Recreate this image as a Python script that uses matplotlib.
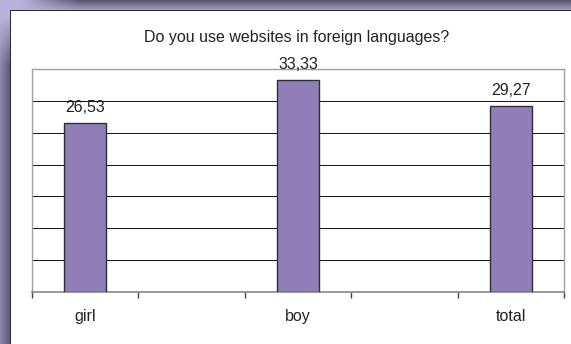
import numpy as np
import matplotlib
matplotlib.use("Agg")
import matplotlib.pyplot as plt
from matplotlib.ticker import FixedLocator, NullFormatter

plt.rcParams["font.family"] = ["Liberation Sans", "DejaVu Sans"]

# Survey data (empty slots keep a blank category between groups)
categories = ["girl", "", "boy", "", "total"]
values = [26.53, None, 33.33, None, 29.27]
value_labels = ["26,53", "", "33,33", "", "29,27"]
title = "Do you use websites in foreign languages?"

W, H = 571, 344
fig = plt.figure(figsize=(W / 100, H / 100), dpi=100)
fig.patch.set_facecolor("white")

# Decorative purple frame along the top and left edges
img = np.ones((H, W, 3))
lav = np.array([0.73, 0.70, 0.86])
top_a = np.array([0.36, 0.34, 0.45])
top_b = np.array([0.63, 0.60, 0.73])
left_a = np.array([0.56, 0.53, 0.67])
left_b = np.array([0.38, 0.36, 0.48])
for r in range(11):
    t = r / 9.0
    c = top_a * (1 - t) + top_b * t
    for x in range(W):
        w = np.clip((x - 20) / 60.0, 0, 1)
        img[r, x] = lav * (1 - w) + c * w
for x in range(11):
    t = x / 9.0
    c = left_a * (1 - t) + left_b * t
    for r in range(H):
        w = np.clip((r - 15) / 50.0, 0, 1)
        img[r, x] = lav * (1 - w) + c * w
dark = np.array([0.17, 0.16, 0.22])
img[10, 10:] = dark
img[10:, 10] = dark

bg = fig.add_axes([0, 0, 1, 1])
bg.imshow(img, extent=(0, W, H, 0), interpolation="bilinear", aspect="auto")
bg.set_xlim(0, W)
bg.set_ylim(H, 0)
bg.axis("off")

fig.text(296.5 / W, 1 - 41.7 / H, title, ha="center", va="baseline",
         fontsize=11.5, color="#222222")

ax = fig.add_axes([32 / W, 52 / H, 532 / W, 223 / H])
ax.set_facecolor("white")

pos = np.arange(len(categories))
for i, v in enumerate(values):
    if v is None:
        continue
    ax.bar(pos[i], v, width=0.4, color="#8f7fb9", edgecolor="#2e2e36",
           linewidth=1.0, zorder=3)
    ax.annotate(value_labels[i], (pos[i], v), xytext=(0, 7.6),
                textcoords="offset points", ha="center", va="baseline",
                fontsize=11.5, color="#222222")

ax.set_xlim(-0.5, len(categories) - 0.5)
ax.set_ylim(0, 35)
ax.set_yticks(np.arange(0, 36, 5))
ax.yaxis.grid(True, color="#1a1a1a", linewidth=0.75, zorder=0)
ax.tick_params(axis="y", length=0, labelleft=False)

ax.set_xticks(pos)
ax.set_xticklabels(categories, fontsize=11.5, color="#222222")
ax.tick_params(axis="x", which="major", length=0, pad=12)
ax.xaxis.set_minor_locator(FixedLocator(np.arange(-0.5, len(categories), 1.0)))
ax.xaxis.set_minor_formatter(NullFormatter())
ax.tick_params(axis="x", which="minor", length=4, width=1, color="#444444",
               direction="out")

for side in ["top", "right", "left"]:
    ax.spines[side].set_color("#a0a0a0")
    ax.spines[side].set_linewidth(1.0)
ax.spines["bottom"].set_color("#888888")
ax.spines["bottom"].set_linewidth(1.2)

fig.savefig("out.png", dpi=100)
